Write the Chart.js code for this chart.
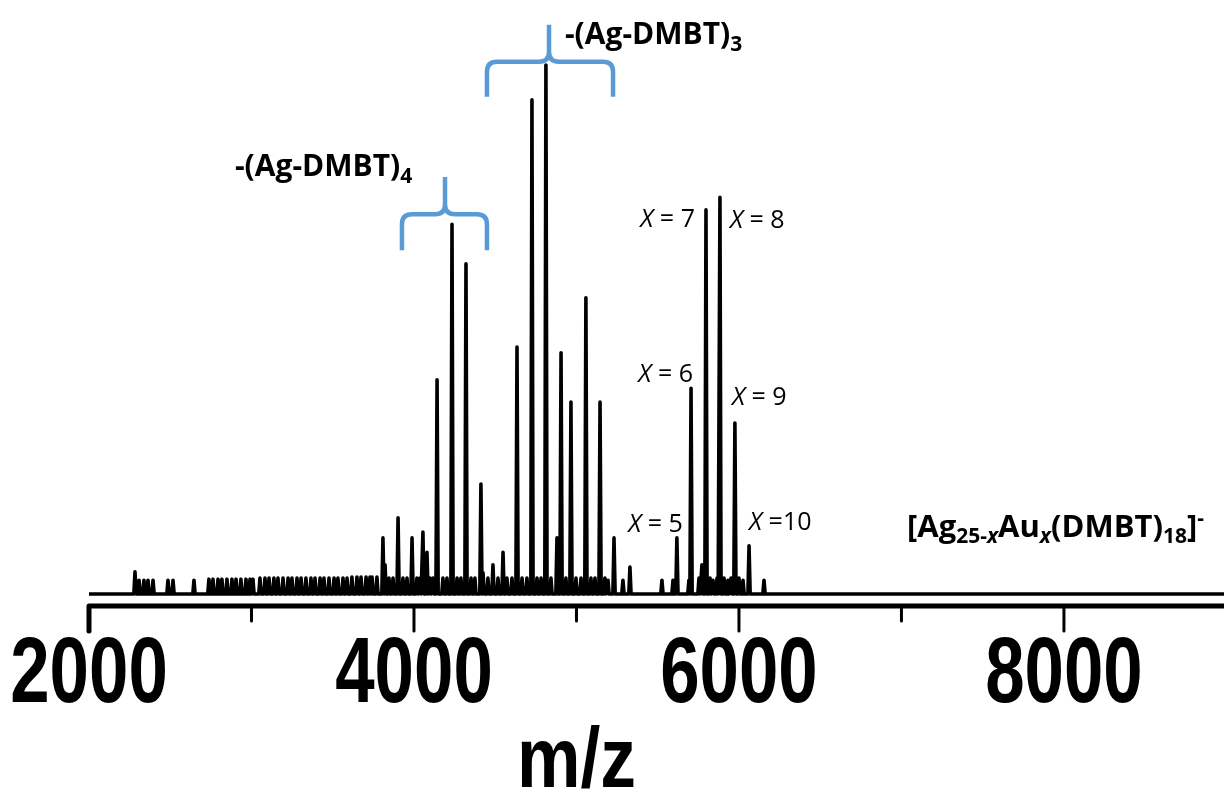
<!DOCTYPE html>
<html>
<head>
<meta charset="utf-8">
<script src="https://cdn.jsdelivr.net/npm/chart.js@4.4.1/dist/chart.umd.min.js"></script>
<style>
    html, body { margin: 0; padding: 0; background: #fff; }
    #wrap { width: 1224px; height: 793px; }
</style>
</head>
<body>
<div id="wrap"><canvas id="myChart"></canvas></div>
<script>
// peak list (m/z, relative intensity %)
const peakMz = [
    2283, 2308, 2338, 2363, 2394, 2486, 2517, 2646, 2738, 2763, 2794, 2818, 2849, 2880, 2905, 2935, 2966, 2991, 3009,
    3052, 3083, 3108, 3138, 3163, 3194, 3225, 3249, 3280, 3305, 3335, 3366, 3391, 3422, 3446, 3477, 3508, 3532, 3563, 3588,
    3618, 3649, 3674, 3705, 3729, 3742, 3772, 3809, 3822, 3846, 3871, 3902, 3932, 3957, 3988, 4018, 4037, 4055, 4080,
    4098, 4117, 4142, 4178, 4203, 4234, 4265, 4289, 4320, 4351, 4375, 4412, 4425, 4455, 4486, 4517, 4548, 4572, 4603,
    4634, 4665, 4695, 4726, 4757, 4782, 4812, 4843, 4880, 4905, 4935, 4966, 4997, 5028, 5058, 5089, 5114, 5145, 5175,
    5194, 5231, 5286, 5329, 5526, 5594, 5618, 5692, 5705, 5754, 5772, 5797, 5822, 5840, 5865, 5883, 5908, 5932, 5951,
    5975, 6000, 6025, 6062, 6154
]
const peakIntensity = [
    4.2, 2.6, 2.6, 2.6, 2.6, 2.6, 2.6, 2.6, 2.8, 2.8, 2.8, 2.8, 2.8, 2.8, 2.8, 2.8, 2.8, 2.8, 2.8,
    3.0, 3.0, 3.0, 3.0, 3.0, 3.0, 3.0, 3.0, 3.0, 3.0, 3.0, 3.0, 3.0, 3.0, 3.0, 3.0, 3.0, 3.0, 3.0, 3.0,
    3.2, 3.2, 3.2, 3.2, 3.2, 3.2, 3.2, 10.6, 5.5, 3.0, 3.0, 14.4, 3.0, 3.0, 10.6, 3.0, 3.0, 11.7, 7.9,
    3.0, 3.0, 40.5, 3.0, 3.0, 69.9, 3.0, 3.0, 62.4, 3.0, 3.0, 20.8, 4.0, 3.0, 5.5, 3.0, 7.9, 3.0, 3.0,
    46.7, 3.0, 3.0, 93.4, 3.0, 3.0, 100, 3.0, 10.6, 45.6, 3.0, 36.3, 3.0, 3.0, 56.0, 3.0, 3.0, 36.3, 3.0,
    2.6, 10.6, 2.6, 5.1, 2.6, 2.6, 10.6, 2.6, 38.9, 3.0, 5.5, 72.6, 3.0, 2.6, 3.0, 75.0, 3.0, 2.6, 3.0,
    32.3, 3.0, 2.6, 9.1, 2.6
]

const mzRange = [2000, 8985]
const tickValues = [2000, 3000, 4000, 5000, 6000, 7000, 8000]
const tickLabels = ['2000', '', '4000', '', '6000', '', '8000']
const axisTitle = 'm/z'

// X = n labels for the [Ag25-xAux(DMBT)18]- envelope
const xLabels = ['X = 5', 'X = 6', 'X = 7', 'X = 8', 'X = 9', 'X =10']
const fragLabels = ['-(Ag-DMBT)', '-(Ag-DMBT)']
const fragSubs = ['4', '3']

// placement of annotations, in data units (m/z, intensity)
const xLabelPos = [
    {mz: 5655, y: 11.7, align: 'right'},
    {mz: 5717, y: 40.1, align: 'right'},
    {mz: 5729, y: 69.4, align: 'right'},
    {mz: 5945, y: 69.2, align: 'left'},
    {mz: 5957, y: 35.7, align: 'left'},
    {mz: 6062, y: 12.1, align: 'left'}
]
const fragLabelPos = [{mz: 2898, y: 79.0}, {mz: 4929, y: 104.0}]
const brackets = [
    {from: 3926, to: 4449, mid: 4191, foot: 65.0, bar: 71.8, tip: 78.8},
    {from: 4449, to: 5225, mid: 4831, foot: 94.0, bar: 100.6, tip: 107.6}
]
const clusterPos = {mz: 7034, y: 10.8}

const PEAK_HALF_WIDTH = 7
const BLUE = '#5b9bd5'

function buildSpectrum() {
    const pts = [{x: mzRange[0], y: 0}]
    peakMz.forEach((mz, i) => {
        pts.push({x: mz - PEAK_HALF_WIDTH, y: 0})
        pts.push({x: mz, y: peakIntensity[i]})
        pts.push({x: mz + PEAK_HALF_WIDTH, y: 0})
    })
    pts.push({x: mzRange[1], y: 0})
    return pts
}

function fontOf(r) {
    return `${r.italic ? 'italic ' : ''}${r.bold ? 'bold ' : ''}${r.size}px "Open Sans", "Noto Sans", sans-serif`
}

function drawRuns(ctx, runs, x, y, align) {
    let total = 0
    runs.forEach(r => {
        ctx.font = fontOf(r)
        r.w = ctx.measureText(r.t).width
        total += r.w
    })
    let cx = align === 'right' ? x - total : x
    ctx.textAlign = 'left'
    ctx.textBaseline = 'alphabetic'
    runs.forEach(r => {
        ctx.font = fontOf(r)
        ctx.fillText(r.t, cx, y + (r.dy || 0))
        cx += r.w
    })
}

function drawSquished(ctx, text, cx, baseY, font, sx) {
    ctx.save()
    ctx.font = font
    ctx.translate(cx, baseY)
    ctx.scale(sx, 1)
    ctx.textAlign = 'center'
    ctx.textBaseline = 'alphabetic'
    ctx.fillText(text, 0, 0)
    ctx.restore()
}

const spectrumDecor = {
    id: 'spectrumDecor',
    afterDraw(chart) {
        const {ctx, chartArea, scales: {x, y}} = chart
        ctx.save()
        ctx.fillStyle = '#000'
        ctx.strokeStyle = '#000'

        // x axis with rounded left corner into the first tick
        const axisY = chartArea.bottom
        const x0 = x.getPixelForValue(tickValues[0])
        ctx.lineWidth = 5
        ctx.lineJoin = 'round'
        ctx.lineCap = 'round'
        ctx.beginPath()
        ctx.moveTo(x0, axisY + 25)
        ctx.lineTo(x0, axisY)
        ctx.lineTo(chartArea.right + 5, axisY)
        ctx.stroke()

        ctx.lineWidth = 3
        tickValues.forEach((v, i) => {
            if (i === 0) return
            const px = x.getPixelForValue(v)
            ctx.beginPath()
            ctx.moveTo(px, axisY)
            ctx.lineTo(px, axisY + (tickLabels[i] ? 25 : 15))
            ctx.stroke()
        })

        // tick labels and title, heavy condensed
        tickValues.forEach((v, i) => {
            if (!tickLabels[i]) return
            drawSquished(ctx, tickLabels[i], x.getPixelForValue(v), axisY + 96, 'bold 92px "Liberation Sans", Arial, sans-serif', 0.77)
        })
        drawSquished(ctx, axisTitle, x.getPixelForValue(5000), axisY + 181, 'bold 86px "Liberation Sans", Arial, sans-serif', 0.83)

        // blue braces
        ctx.strokeStyle = BLUE
        ctx.lineWidth = 4.5
        ctx.lineCap = 'butt'
        brackets.forEach(b => {
            const xl = x.getPixelForValue(b.from), xr = x.getPixelForValue(b.to), xm = x.getPixelForValue(b.mid)
            const yf = y.getPixelForValue(b.foot), yb = y.getPixelForValue(b.bar), yt = y.getPixelForValue(b.tip)
            const r = 10
            ctx.beginPath()
            ctx.moveTo(xl, yf)
            ctx.lineTo(xl, yb + r)
            ctx.quadraticCurveTo(xl, yb, xl + r, yb)
            ctx.lineTo(xm - r, yb)
            ctx.quadraticCurveTo(xm, yb, xm, yb - r)
            ctx.lineTo(xm, yt)
            ctx.moveTo(xr, yf)
            ctx.lineTo(xr, yb + r)
            ctx.quadraticCurveTo(xr, yb, xr - r, yb)
            ctx.lineTo(xm + r, yb)
            ctx.quadraticCurveTo(xm, yb, xm, yb - r)
            ctx.stroke()
        })

        // fragment labels
        ctx.fillStyle = '#000'
        fragLabels.forEach((t, i) => {
            const p = fragLabelPos[i]
            drawRuns(ctx, [
                {t: t, size: 30, bold: true},
                {t: fragSubs[i], size: 21, bold: true, dy: 7}
            ], x.getPixelForValue(p.mz), y.getPixelForValue(p.y), 'left')
        })

        // X = n labels
        xLabels.forEach((t, i) => {
            const p = xLabelPos[i]
            drawRuns(ctx, [
                {t: t.charAt(0), size: 25, italic: true},
                {t: t.slice(1), size: 25}
            ], x.getPixelForValue(p.mz), y.getPixelForValue(p.y), p.align)
        })

        // cluster formula
        drawRuns(ctx, [
            {t: '[Ag', size: 31, bold: true},
            {t: '25-', size: 21, bold: true, dy: 6},
            {t: 'x', size: 21, bold: true, italic: true, dy: 6},
            {t: 'Au', size: 31, bold: true},
            {t: 'x', size: 21, bold: true, italic: true, dy: 6},
            {t: '(DMBT)', size: 31, bold: true},
            {t: '18', size: 21, bold: true, dy: 6},
            {t: ']', size: 31, bold: true},
            {t: '-', size: 21, bold: true, dy: -12}
        ], x.getPixelForValue(clusterPos.mz), y.getPixelForValue(clusterPos.y), 'left')

        ctx.restore()
    }
}

const ctx = document.getElementById('myChart').getContext('2d')
const chart = new Chart(ctx, {
    type: 'line',
    data: {
        datasets: [{
            label: 'spectrum',
            data: buildSpectrum(),
            borderColor: '#000',
            borderWidth: 3.6,
            borderJoinStyle: 'round',
            pointRadius: 0,
            tension: 0,
            fill: false
        }]
    },
    options: {
        responsive: true,
        maintainAspectRatio: false,
        animation: false,
        layout: {padding: {left: 89, top: 20, right: 0, bottom: 0}},
        plugins: {legend: {display: false}, tooltip: {enabled: false}},
        scales: {
            x: {
                type: 'linear',
                min: mzRange[0],
                max: mzRange[1],
                ticks: {display: false},
                grid: {display: false},
                border: {display: false},
                afterFit: (scale) => { scale.height = 187 }
            },
            y: {
                display: false,
                min: -2.27,
                max: 108.5
            }
        }
    },
    plugins: [spectrumDecor]
})
</script>
</body>
</html>
